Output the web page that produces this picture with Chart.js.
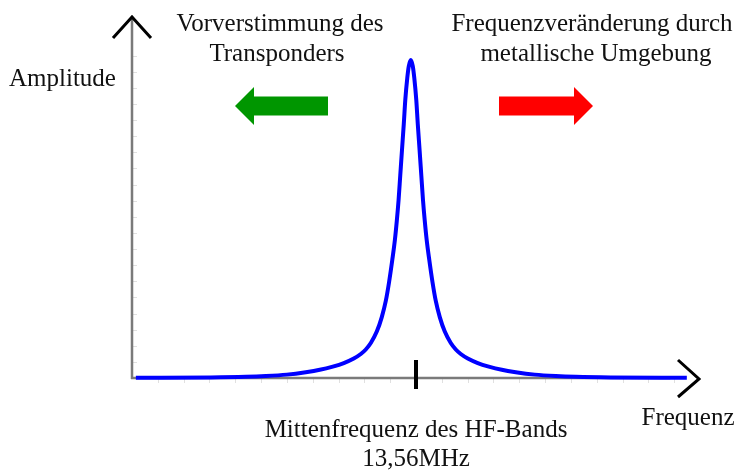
<!DOCTYPE html>
<html>
<head>
<meta charset="utf-8">
<script src="https://cdn.jsdelivr.net/npm/chart.js@4"></script>
<style>
  body { margin: 0; background: #fff; }
  #wrap { width: 744px; height: 471px; }
</style>
</head>
<body>
<div id="wrap"><canvas id="myChart" width="744" height="471"></canvas></div>
<script>
// Resonanzkurve, x = Frequenz, y = Amplitude (beliebige Einheiten)
const freq = [0.15, 3.052, 4.408, 5.182, 5.995, 6.731, 7.274, 7.777, 8.203, 8.59, 8.862, 9.055, 9.249, 9.481, 9.675,
              9.83, 9.958, 10.081, 10.182, 10.256, 10.325, 10.391, 10.457, 10.527, 10.585, 10.662, 10.721, 10.798,
              10.875, 10.934, 11.011, 11.069, 11.139, 11.205, 11.271, 11.34, 11.414, 11.515, 11.638, 11.766, 11.921,
              12.115, 12.347, 12.541, 12.734, 13.006, 13.393, 13.819, 14.322, 14.865, 15.601, 16.414, 17.188, 18.544, 21.49];
const amplitude = [0.01, 0.03, 0.07, 0.12, 0.21, 0.36, 0.51, 0.71, 0.93, 1.21, 1.49, 1.77, 2.17, 2.88, 3.78,
                   4.78, 5.96, 7.32, 8.56, 9.74, 11.04, 12.59, 14.14, 15.76, 17.25, 18.61, 19.35, 19.73,
                   19.35, 18.61, 17.25, 15.76, 14.14, 12.59, 11.04, 9.74, 8.56, 7.32, 5.96, 4.78, 3.78,
                   2.88, 2.17, 1.77, 1.49, 1.21, 0.93, 0.71, 0.51, 0.36, 0.21, 0.12, 0.07, 0.03, 0.01];

// Mittenfrequenz und Achsen
const centerFreq = 11;
const xTicks = [1, 2, 3, 4, 5, 6, 7, 8, 9, 10, 11, 12, 13, 14, 15, 16, 17, 18, 19, 20, 21];
const yTicks = [1, 2, 3, 4, 5, 6, 7, 8, 9, 10, 11, 12, 13, 14, 15, 16, 17, 18, 19, 20];

// Beschriftungen
const leftText = ["Vorverstimmung des", "Transponders"];
const rightText = ["Frequenzveränderung durch", "metallische Umgebung"];
const bottomText = ["Mittenfrequenz des HF-Bands", "13,56MHz"];
const yLabel = "Amplitude";
const xLabel = "Frequenz";

const FONT = "25px 'Liberation Serif', 'Times New Roman', serif";

function blockArrow(ctx, tipX, tailX, y, color) {
    // Pfeil mit Schaft und Spitze, Richtung je nach tipX < tailX
    const dir = tipX < tailX ? -1 : 1;
    const headBase = tipX - dir * 19;
    ctx.save();
    ctx.fillStyle = color;
    ctx.beginPath();
    ctx.moveTo(tailX, y - 9.5);
    ctx.lineTo(headBase, y - 9.5);
    ctx.lineTo(headBase, y - 19);
    ctx.lineTo(tipX, y);
    ctx.lineTo(headBase, y + 19);
    ctx.lineTo(headBase, y + 9.5);
    ctx.lineTo(tailX, y + 9.5);
    ctx.closePath();
    ctx.fill();
    ctx.restore();
}

const axesPlugin = {
    id: "axesPlugin",
    beforeDatasetsDraw(chart) {
        const ctx = chart.ctx;
        const x = chart.scales.x;
        const y = chart.scales.y;
        const x0 = x.getPixelForValue(0);
        const y0 = y.getPixelForValue(0);

        ctx.save();
        // feine Teilstriche
        ctx.strokeStyle = "#e0e0e0";
        ctx.lineWidth = 1;
        xTicks.forEach(v => {
            const px = Math.round(x.getPixelForValue(v)) + 0.5;
            ctx.beginPath();
            ctx.moveTo(px, y0);
            ctx.lineTo(px, y0 + 5);
            ctx.stroke();
        });
        yTicks.forEach(v => {
            const py = Math.round(y.getPixelForValue(v)) + 0.5;
            ctx.beginPath();
            ctx.moveTo(x0, py);
            ctx.lineTo(x0 + 5, py);
            ctx.stroke();
        });

        // Achsenlinien
        ctx.strokeStyle = "#7a7a7a";
        ctx.lineWidth = 2.5;
        ctx.beginPath();
        ctx.moveTo(x0, y0 + 1);
        ctx.lineTo(x0, chart.chartArea.top);
        ctx.moveTo(x0 - 1, y0);
        ctx.lineTo(x.getPixelForValue(20.85), y0);
        ctx.stroke();

        // Pfeilspitzen der Achsen
        ctx.strokeStyle = "#000";
        ctx.lineWidth = 3;
        ctx.lineJoin = "miter";
        ctx.beginPath();
        ctx.moveTo(x0 - 19, chart.chartArea.top + 21);
        ctx.lineTo(x0, chart.chartArea.top);
        ctx.lineTo(x0 + 19, chart.chartArea.top + 21);
        ctx.stroke();
        const xr = chart.chartArea.right - 1;
        ctx.beginPath();
        ctx.moveTo(xr - 21, y0 - 18);
        ctx.lineTo(xr, y0 + 1);
        ctx.lineTo(xr - 21, y0 + 19);
        ctx.stroke();
        ctx.restore();
    },
    afterDatasetsDraw(chart) {
        const ctx = chart.ctx;
        const x = chart.scales.x;
        const y = chart.scales.y;
        const cx = x.getPixelForValue(centerFreq);
        const y0 = y.getPixelForValue(0);

        ctx.save();
        // Markierung der Mittenfrequenz
        ctx.strokeStyle = "#000";
        ctx.lineWidth = 4;
        ctx.beginPath();
        ctx.moveTo(cx, y0 - 18);
        ctx.lineTo(cx, y0 + 11);
        ctx.stroke();

        // Verschiebungspfeile
        blockArrow(ctx, 235, 328, 106, "#009600");
        blockArrow(ctx, 593, 499, 106, "#ff0000");

        // Texte
        ctx.fillStyle = "#111";
        ctx.font = FONT;
        ctx.textAlign = "center";
        ctx.textBaseline = "alphabetic";
        ctx.fillText(leftText[0], 280, 31);
        ctx.fillText(leftText[1], 277, 61);
        ctx.fillText(rightText[0], 592, 31);
        ctx.fillText(rightText[1], 596, 61);
        ctx.fillText(bottomText[0], cx, 437);
        ctx.fillText(bottomText[1], cx, 466);
        ctx.fillText(xLabel, 688, 425);
        ctx.textAlign = "left";
        ctx.fillText(yLabel, 9, 86);
        ctx.restore();
    }
};

const myChart = new Chart("myChart", {
    type: "line",
    data: {
        datasets: [{
            label: "Resonanzkurve",
            data: freq.map((f, i) => ({ x: f, y: amplitude[i] })),
            borderColor: "#0000ff",
            borderWidth: 4,
            pointRadius: 0,
            cubicInterpolationMode: "monotone",
            fill: false,
            clip: false
        }]
    },
    options: {
        responsive: false,
        animation: false,
        devicePixelRatio: 1,
        layout: { padding: { left: 132, top: 17, right: 44, bottom: 93 } },
        plugins: {
            legend: { display: false },
            tooltip: { enabled: false }
        },
        scales: {
            x: { type: "linear", min: 0, max: 22, display: false },
            y: { type: "linear", min: 0, max: 22.4, display: false }
        }
    },
    plugins: [axesPlugin]
});
</script>
</body>
</html>
